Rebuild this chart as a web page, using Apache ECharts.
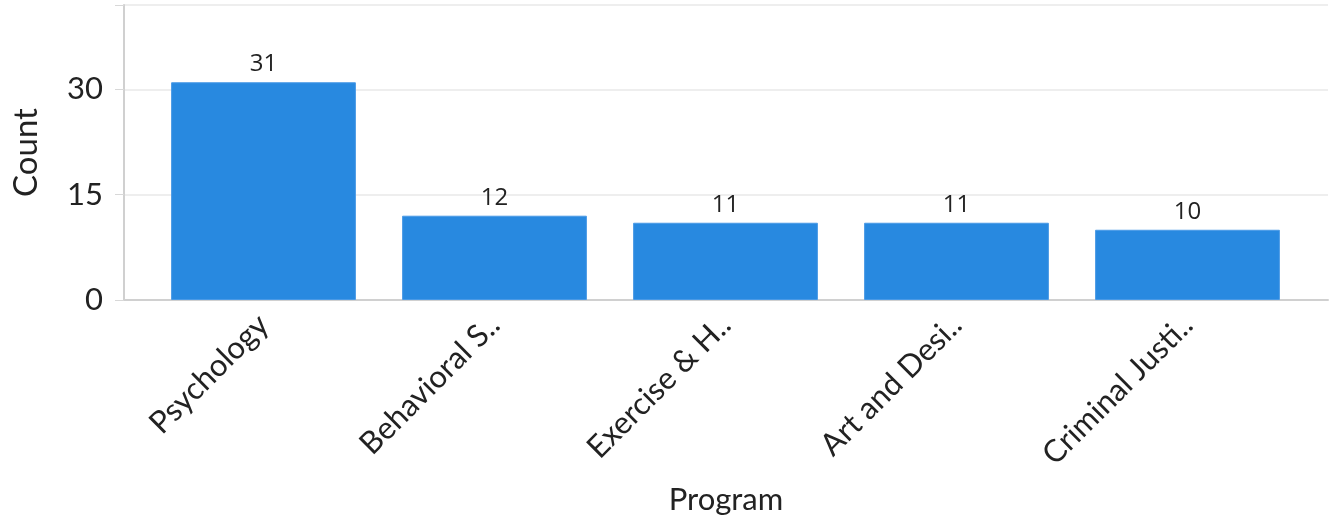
<!DOCTYPE html>
<html>
<head>
<meta charset="utf-8">
<script src="https://cdn.jsdelivr.net/npm/echarts@6/dist/echarts.min.js"></script>
<style>html,body{margin:0;padding:0;background:#fff;}#c{width:1336px;height:516px;}</style>
</head>
<body>
<div id="c"></div>
<script>
const categories = ['Psychology', 'Behavioral S..', 'Exercise & H..', 'Art and Desi..', 'Criminal Justi..'];
const counts = [31, 12, 11, 11, 10];
const yTicks = [0, 15, 30];
const yMax = 42;

const chart = echarts.init(document.getElementById('c'), null, {renderer: 'canvas'});
const font = 'Lato, "Noto Sans", sans-serif';
chart.setOption({
  animation: false,
  textStyle: {fontFamily: font},
  grid: [
    {left: 124, right: 8, top: 5, bottom: 216, containLabel: false, outerBoundsMode: 'none'},
    {left: 148, right: 33, top: 5, bottom: 216, containLabel: false, outerBoundsMode: 'none'}
  ],
  xAxis: [
    {gridIndex: 0, type: 'value', min: 0, max: 1,
     axisLine: {show: true, lineStyle: {color: '#d0d0d0', width: 2}},
     axisTick: {show: false}, axisLabel: {show: false}, splitLine: {show: false},
     name: 'Program', nameLocation: 'middle', nameGap: 184,
     nameTextStyle: {fontSize: 31, color: '#222', fontFamily: font}},
    {gridIndex: 1, type: 'category', data: categories,
     axisLine: {show: false}, axisTick: {show: false},
     axisLabel: {rotate: 45, fontSize: 31, color: '#222', margin: 20, interval: 0, fontFamily: font}}
  ],
  yAxis: [
    {gridIndex: 0, type: 'value', min: 0, max: yMax, interval: 15,
     axisLine: {show: true, lineStyle: {color: '#d0d0d0', width: 2}},
     axisTick: {show: true, length: 9, lineStyle: {color: '#d8d8d8'}},
     splitLine: {show: true, lineStyle: {color: '#e8e8e8', width: 1.5}},
     axisLabel: {fontSize: 31, color: '#222', margin: 21, fontFamily: font,
       formatter: v => yTicks.includes(v) ? String(v) : ''},
     name: 'Count', nameLocation: 'middle', nameGap: 81,
     nameTextStyle: {fontSize: 33, color: '#222', fontFamily: font}},
    {gridIndex: 1, type: 'value', min: 0, max: yMax, show: false}
  ],
  series: [{
    type: 'bar', xAxisIndex: 1, yAxisIndex: 1, data: counts,
    barCategoryGap: '20%',
    itemStyle: {color: '#2889e0', borderColor: '#4a9ae6', borderWidth: 1},
    label: {show: true, position: 'top', distance: 6, fontSize: 24, color: '#222', fontFamily: '"Open Sans", sans-serif'}
  }]
});
</script>
</body>
</html>
